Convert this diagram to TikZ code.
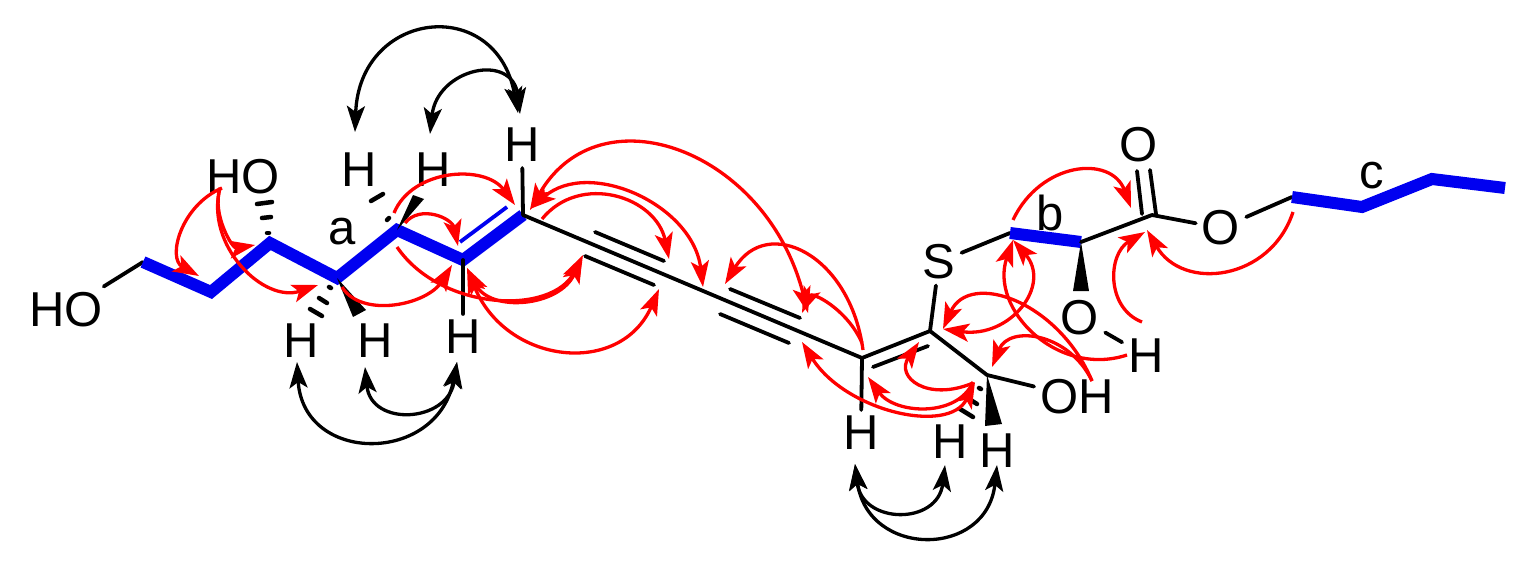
\documentclass[tikz,border=0pt]{standalone}
\usepackage{fontspec}
\setmainfont{Liberation Sans}
\usetikzlibrary{arrows.meta,calc}
\definecolor{chainblue}{RGB}{0,0,240}
\definecolor{hmbc}{RGB}{255,0,0}
\tikzset{
 atom/.style={inner sep=6pt,font=\fontsize{49}{49}\selectfont},
 bond/.style={line width=3.8pt,black,line cap=round},
 chain/.style={line width=12pt,chainblue,line join=miter},
 hashbar/.style={line width=4.5pt,black,line cap=round},
 wedge/.style={fill=black,draw=none},
 tipr/.tip={Stealth[length=26pt,width=18pt,inset=6pt]},
 hm/.style={line width=3.3pt,hmbc},
 noe/.style={line width=3.3pt,black},
}
% arc from #2 through #3 to #4
\newcommand{\curve}[4]{\draw[#1] #2 .. controls ($0.1333*#2-0.4667*#4+1.3333*#3$) and ($0.1333*#4-0.4667*#2+1.3333*#3$) .. #4;}
% rounder arc for the wide through-space arrows
\newcommand{\rcurve}[4]{\draw[#1] #2 .. controls ($0.2533*#2-0.5867*#4+1.3333*#3$) and ($0.2533*#4-0.5867*#2+1.3333*#3$) .. #4;}
\begin{document}
\begin{tikzpicture}[x=1pt,y=-1pt]
\useasboundingbox (0,0) rectangle (1538,564);
% skeleton atoms
\coordinate (c1) at (143,262);
\coordinate (c2) at (211,292);
\coordinate (c3) at (270,243);
\coordinate (c4) at (337,278);
\coordinate (c5) at (397,230);
\coordinate (c6) at (463,260);
\coordinate (c7) at (523,215);
\coordinate (c12) at (862,358);
\coordinate (c13) at (930,331);
\coordinate (c14) at (987,375);
\coordinate (c15) at (1010,233);
\coordinate (c16) at (1081,242);
\coordinate (c17) at (1152,215);
\coordinate (c18) at (1292,197);
\coordinate (c19) at (1362,207);
\coordinate (c20) at (1432,179);
\coordinate (c21) at (1505,188);
% labels
\node[atom] (ho1) at (66,310) {HO};
\node[atom] (ho2) at (243,177) {HO};
\node[atom] (la) at (342,232) {a};
\node[atom] (h5a) at (359,170) {H};
\node[atom] (h5b) at (433,170) {H};
\node[atom] (h7) at (522,145) {H};
\node[atom] (h4a) at (301,341) {H};
\node[atom] (h4b) at (375,341) {H};
\node[atom] (h6) at (463,337) {H};
\node[atom] (h12) at (861,433) {H};
\node[atom] (h14a) at (950,442) {H};
\node[atom] (h14b) at (997,451) {H};
\node[atom] (oh14) at (1077,397) {OH};
\node[atom] (s) at (939,262) {S};
\node[atom] (lb) at (1050,213) {b};
\node[atom] (o2) at (1080,318) {O};
\node[atom] (ho3) at (1146,356) {H};
\node[atom] (o1) at (1139,145) {O};
\node[atom] (o3) at (1221,228) {O};
\node[atom] (lc) at (1372,176) {c};
% bonds
\draw[bond] (ho1) -- (c1);
\draw[chain] (c1) -- (c2) -- (c3) -- (c4) -- (c5) -- (c6) -- (c7);
\draw[line width=3.8pt,chainblue] (460,242) -- (507,207);
\draw[bond] (c7) -- (h7);
\draw[bond] (c6) -- (h6);
\draw[bond] (c7) -- (c12);
\draw[bond] (595,232) -- (664,261);
\draw[bond] (585,256) -- (654,285);
\draw[bond] (730,289) -- (800,318);
\draw[bond] (720,314) -- (789,343);
\draw[bond] (c12) -- (c13);
\draw[bond] (873,367) -- (928,346);
\draw[bond] (c12) -- (h12);
\draw[bond] (c13) -- (s);
\draw[bond] (c13) -- (c14);
\draw[bond] (c14) -- (oh14);
\draw[bond] (s) -- (c15);
\draw[chain] (c15) -- (c16);
\draw[bond] (c16) -- (c17);
\draw[bond] (1137,171) -- (1142,214);
\draw[bond] (1150,170) -- (1156,214);
\draw[bond] (c17) -- (o3);
\draw[bond] (o3) -- (c18);
\draw[chain] (c18) -- (c19) -- (c20) -- (c21);
\draw[bond] (o2) -- (ho3);
% wedges
\fill[wedge] (c5) -- (413,195) -- (424,199) -- cycle;
\fill[wedge] (c4) -- (353,317) -- (366,310) -- cycle;
\fill[wedge] (c14) -- (985,426) -- (1002,424) -- cycle;
\fill[wedge] (c16) -- (1073,291) -- (1089,291) -- cycle;
% hashed bonds
\draw[hashbar] (267,233) -- (269,233);
\draw[hashbar] (262,218) -- (271,217);
\draw[hashbar] (257,204) -- (272,202);
\draw[hashbar] (387,220) -- (389,218);
\draw[hashbar] (371,201) -- (383,194);
\draw[hashbar] (329,287) -- (331,288);
\draw[hashbar] (319,298) -- (327,303);
\draw[hashbar] (310,309) -- (322,316);
\draw[hashbar] (979,388) -- (981,389);
\draw[hashbar] (969,399) -- (977,404);
\draw[hashbar] (960,409) -- (973,417);
% NOE arrows
\rcurve{noe,tipr-tipr}{(355,132)}{(430,32)}{(518,113)}
\rcurve{noe,tipr-tipr}{(430,134)}{(475,76)}{(520,114)}
\rcurve{noe,tipr-tipr}{(297,362)}{(372,439)}{(457,362)}
\rcurve{noe,tipr-tipr}{(365,367)}{(410,410)}{(457,362)}
\rcurve{noe,tipr-tipr}{(855,464)}{(900,510)}{(945,465)}
\rcurve{noe,tipr-tipr}{(855,464)}{(927,535)}{(997,465)}
% HMBC arrows
\curve{hm,-tipr}{(222,188)}{(183,232)}{(199,276)}
\curve{hm,-tipr}{(220,188)}{(226,228)}{(255,245)}
\curve{hm,-tipr}{(220,188)}{(243,265)}{(318,285)}
\curve{hm,-tipr}{(394,213)}{(450,177)}{(515,205)}
\curve{hm,-tipr}{(405,223)}{(435,217)}{(458,246)}
\curve{hm,-tipr}{(397,247)}{(495,298)}{(583,255)}
\curve{hm,-tipr}{(342,287)}{(395,303)}{(452,265)}
\curve{hm,tipr-tipr}{(467,268)}{(525,298)}{(582,257)}
\curve{hm,tipr-tipr}{(467,268)}{(563,348)}{(659,289)}
\curve{hm,tipr-tipr}{(530,210)}{(680,155)}{(808,313)}
\curve{hm,-tipr}{(542,219)}{(615,198)}{(669,259)}
\curve{hm,tipr-tipr}{(530,209)}{(635,198)}{(703,287)}
\curve{hm,-tipr}{(863,350)}{(805,255)}{(725,284)}
\curve{hm,-tipr}{(862,343)}{(830,307)}{(802,313)}
\curve{hm,tipr-tipr}{(802,342)}{(895,408)}{(975,382)}
\curve{hm,tipr-}{(868,377)}{(925,407)}{(973,382)}
\curve{hm,-tipr}{(973,383)}{(920,383)}{(919,342)}
\curve{hm,-tipr}{(1092,381)}{(1015,303)}{(943,329)}
\curve{hm,tipr-tipr}{(943,329)}{(1018,305)}{(1013,240)}
\curve{hm,tipr-}{(1013,240)}{(1035,332)}{(1127,355)}
\curve{hm,-tipr}{(1092,381)}{(1040,340)}{(992,367)}
\curve{hm,-tipr}{(1013,220)}{(1075,172)}{(1131,208)}
\curve{hm,-tipr}{(1142,322)}{(1116,280)}{(1145,232)}
\curve{hm,-tipr}{(1293,212)}{(1225,270)}{(1147,230)}
\end{tikzpicture}
\end{document}
